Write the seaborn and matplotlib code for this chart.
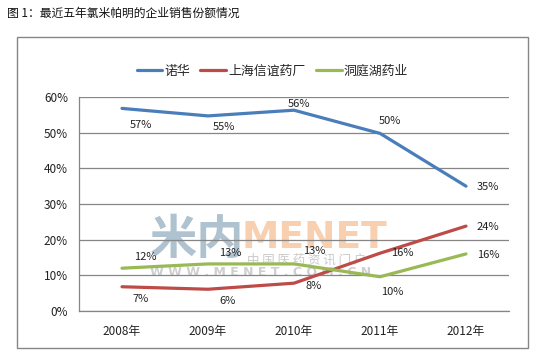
import pandas as pd
import seaborn as sns
import matplotlib.pyplot as plt
import matplotlib.ticker as ticker
from matplotlib.patches import Rectangle

years = ['2008年', '2009年', '2010年', '2011年', '2012年']
novartis = [56.8, 54.7, 56.3, 49.8, 35.0]
shanghai_xinyi = [6.8, 6.1, 7.8, 16.2, 23.8]
dongtinghu = [12.0, 13.2, 13.2, 9.6, 16.0]
companies = ['诺华', '上海信谊药厂', '洞庭湖药业']

sns.set_style('white')
plt.rcParams['font.family'] = ['Noto Sans CJK SC', 'DejaVu Sans']

df = pd.DataFrame({
    'year': years * 3,
    'share': novartis + shanghai_xinyi + dongtinghu,
    'company': [c for c in companies for _ in years],
})

my_palette = {'诺华': '#4A7EBB', '上海信谊药厂': '#BE4B48', '洞庭湖药业': '#98B954'}

fig = plt.figure(figsize=(5.39, 3.52), dpi=100)
ax = fig.add_axes([79 / 539, 1 - 311 / 352, 430 / 539, 214 / 352])

# outer chart frame
fig.patches.append(Rectangle((17 / 539, 1 - 348 / 352), 511 / 539, 311 / 352,
                             transform=fig.transFigure, fill=False,
                             edgecolor='#868686', linewidth=1.0))

# watermark
ax.text(0.165, 0.33, '米内', transform=ax.transAxes, fontsize=34, fontweight='bold',
        color='#AFC2CF', ha='left', va='center', zorder=0)
ax.text(0.379, 0.34, 'MENET', transform=ax.transAxes, fontsize=27, fontweight='bold',
        family='DejaVu Sans', color='#F8CFAF', ha='left', va='center', zorder=0)
ax.text(0.391, 0.238, '中 国 医 药 资 讯 门 户', transform=ax.transAxes, fontsize=9,
        color='#CACACA', ha='left', va='center', zorder=0)
ax.text(0.165, 0.178, 'W W W . M E N E T . C O M . C N', transform=ax.transAxes,
        fontsize=9, fontweight='bold', family='DejaVu Sans', color='#CFCFCF',
        ha='left', va='center', zorder=0)

sns.lineplot(data=df, x='year', y='share', hue='company', hue_order=companies,
             palette=my_palette, linewidth=2.3, ax=ax, legend=False, zorder=3)

offsets = {
    '诺华': [(19, -17), (16, -11), (5, 6), (10, 12), (22, -1)],
    '上海信谊药厂': [(19, -12), (20, -12), (20, -3), (22, 0), (22, -1)],
    '洞庭湖药业': [(23, 11), (22, 11), (20, 13), (12, -15), (22, -1)],
}
for comp, vals in zip(companies, [novartis, shanghai_xinyi, dongtinghu]):
    for i, v in enumerate(vals):
        ax.annotate(f'{v:.0f}%', (i, v), xytext=offsets[comp][i], textcoords='offset pixels',
                    ha='center', va='center', fontsize=8, color='#222222', zorder=4)

ax.set_xlim(-0.5, 4.5)
ax.set_ylim(0, 60)
ax.set_yticks(range(0, 61, 10))
ax.yaxis.set_major_formatter(ticker.StrMethodFormatter('{x:.0f}%'))
ax.grid(axis='y', color='#868686', linewidth=0.9)
ax.set_axisbelow(True)
ax.set_xlabel('')
ax.set_ylabel('')
for s in ['top', 'right']:
    ax.spines[s].set_visible(False)
for s in ['left', 'bottom']:
    ax.spines[s].set_color('#868686')
    ax.spines[s].set_linewidth(0.9)
ax.tick_params(axis='both', length=0, labelsize=8.5, colors='#222222')
ax.tick_params(axis='x', pad=10)
ax.tick_params(axis='y', pad=8)

handles = [plt.Line2D([], [], color=my_palette[c], linewidth=2.3) for c in companies]
fig.legend(handles, companies, loc='center', bbox_to_anchor=(0.505, 1 - 71 / 352), ncol=3,
           frameon=False, fontsize=9.3, handlelength=2.0, handletextpad=0.15,
           columnspacing=0.8)

fig.text(7 / 539, 1 - 13 / 352, '图 1：最近五年氯米帕明的企业销售份额情况', fontsize=8.5,
         ha='left', va='center', color='#111111')

plt.savefig('out.png', dpi=100)
